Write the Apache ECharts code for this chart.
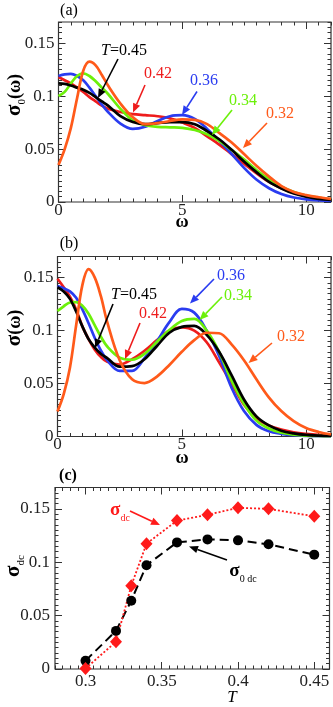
<!DOCTYPE html>
<html><head><meta charset="utf-8">
<script src="https://cdn.jsdelivr.net/npm/echarts@6/dist/echarts.min.js"></script>
<style>html,body{margin:0;padding:0;background:#fff}#c{width:333px;height:707px}</style>
</head><body><div id="c"></div>
<script>
// ---- data ----
const omega = [0,0.25,0.5,0.75,1,1.25,1.5,1.75,2,2.5,3,3.5,4,4.5,5,5.5,6,6.5,7,7.5,8,8.5,9,9.5,10,10.5,11];
// panel (a): sigma_0(omega)
const a045 = [0.112,0.1115,0.110,0.108,0.106,0.103,0.099,0.095,0.091,0.081,0.0755,0.0735,0.0745,0.0755,0.0755,0.0735,0.067,0.059,0.049,0.038,0.028,0.019,0.0128,0.008,0.005,0.003,0.002];
const a042 = [0.118,0.115,0.112,0.108,0.104,0.099,0.095,0.091,0.088,0.085,0.083,0.082,0.081,0.079,0.075,0.070,0.062,0.054,0.045,0.036,0.027,0.019,0.013,0.0085,0.0055,0.0035,0.0025];
const a036 = [0.119,0.1205,0.121,0.119,0.115,0.108,0.100,0.092,0.085,0.074,0.069,0.071,0.0765,0.081,0.082,0.0785,0.069,0.0575,0.045,0.032,0.021,0.013,0.0075,0.0042,0.0025,0.0015,0.001];
const a034 = [0.100,0.104,0.112,0.119,0.1215,0.119,0.114,0.108,0.102,0.088,0.077,0.0725,0.071,0.0705,0.070,0.068,0.064,0.0575,0.049,0.040,0.030,0.0215,0.0145,0.0095,0.006,0.004,0.0025];
const a032 = [0.035,0.05,0.07,0.098,0.124,0.1325,0.129,0.12,0.11,0.093,0.08,0.0735,0.0745,0.0765,0.078,0.0775,0.0735,0.065,0.056,0.045,0.034,0.024,0.015,0.0095,0.0065,0.0045,0.003];
// panel (b): sigma(omega)
const b045 = [0.141,0.137,0.13,0.118,0.104,0.092,0.084,0.078,0.074,0.066,0.0665,0.073,0.0855,0.098,0.1035,0.1045,0.096,0.080,0.058,0.035,0.019,0.0105,0.0055,0.003,0.0015,0.0008,0.0005];
const b042 = [0.149,0.141,0.132,0.12,0.104,0.092,0.082,0.075,0.0705,0.068,0.073,0.081,0.091,0.100,0.103,0.100,0.089,0.070,0.050,0.030,0.017,0.0105,0.0065,0.004,0.0025,0.0015,0.001];
const b036 = [0.142,0.140,0.137,0.131,0.12,0.107,0.093,0.081,0.072,0.062,0.062,0.074,0.09,0.108,0.1205,0.117,0.100,0.076,0.046,0.024,0.011,0.005,0.0025,0.0012,0.0006,0.0003,0.0002];
const b034 = [0.1185,0.123,0.1265,0.127,0.1235,0.116,0.105,0.094,0.085,0.0745,0.0725,0.078,0.0895,0.1005,0.109,0.111,0.100,0.080,0.053,0.031,0.015,0.0075,0.0035,0.0018,0.0009,0.0005,0.0003];
const b032 = [0.0236,0.04,0.065,0.105,0.143,0.158,0.150,0.132,0.108,0.072,0.054,0.0505,0.0566,0.0676,0.080,0.091,0.098,0.0975,0.087,0.072,0.054,0.037,0.024,0.0145,0.008,0.0043,0.002];
// panel (c)
const tempsC = [0.30,0.32,0.33,0.34,0.36,0.38,0.40,0.42,0.45];
const sigma0dc = [0.0078,0.0357,0.064,0.0972,0.1186,0.1214,0.1205,0.1168,0.1071];
const sigmadc = [0.0005,0.0255,0.078,0.1174,0.139,0.1444,0.151,0.150,0.143];
// ticks
const xTicksAB = [0,5,10];
const xTickLabelsAB = ['0','5','10'];
const yTicks = [0,0.05,0.1,0.15];
const yTickLabels = ['0','0.05','0.1','0.15'];
const xTicksC = [0.3,0.35,0.4,0.45];
const xTickLabelsC = ['0.3','0.35','0.4','0.45'];

// ---- style ----
const SERIF = '"Liberation Serif","DejaVu Serif",serif';
const COL = {k:'#000000', r:'#ee1c1c', b:'#2a3cf0', g:'#6cf00a', o:'#ff5a1a'};
const AX = '#333';
const grids = [
  {left:58.5, top:22, width:272.5, height:180},
  {left:57.5, top:256.5, width:273.5, height:180},
  {left:55, top:487.5, width:274.5, height:181.5}
];
const cfg = [
  {x:[0,11], xMinor:0.5, y:[0,0.17], yMinor:0.005, xt:xTicksAB, xl:xTickLabelsAB, xm:0, ym:4},
  {x:[0,11], xMinor:0.5, y:[0,0.17], yMinor:0.005, xt:xTicksAB, xl:xTickLabelsAB, xm:0, ym:4},
  {x:[0.28,0.46], xMinor:0.005, y:[0,0.17], yMinor:0.005, xt:xTicksC, xl:xTickLabelsC, xm:4, ym:5}
];
function lbl(v, ticks, labels){
  for (let i=0;i<ticks.length;i++) if (Math.abs(v-ticks[i])<1e-9) return labels[i];
  return '';
}
const xAxes=[], yAxes=[];
cfg.forEach((c,gi)=>{
  ['bottom','top'].forEach(pos=>{
    xAxes.push({gridIndex:gi,type:'value',min:c.x[0],max:c.x[1],position:pos,
      axisLine:{show:false,onZero:false},splitLine:{show:false},
      axisTick:{inside:true,length:7,customValues:c.xt,lineStyle:{color:AX,width:1}},
      axisLabel:{show:pos==='bottom',customValues:c.xt,formatter:v=>lbl(v,c.xt,c.xl),
        fontFamily:SERIF,fontSize:17,color:'#222',margin:c.xm}});
    xAxes.push({gridIndex:gi,type:'value',min:c.x[0],max:c.x[1],interval:c.xMinor,position:pos,
      axisLine:{show:false,onZero:false},splitLine:{show:false},
      axisTick:{inside:true,length:3.5,lineStyle:{color:AX,width:1}},axisLabel:{show:false}});
  });
  ['left','right'].forEach(pos=>{
    yAxes.push({gridIndex:gi,type:'value',min:c.y[0],max:c.y[1],position:pos,
      axisLine:{show:false,onZero:false},splitLine:{show:false},
      axisTick:{inside:true,length:7,customValues:yTicks,lineStyle:{color:AX,width:1}},
      axisLabel:{show:pos==='left',customValues:yTicks,formatter:v=>lbl(v,yTicks,yTickLabels),
        fontFamily:SERIF,fontSize:17,color:'#222',margin:c.ym}});
    yAxes.push({gridIndex:gi,type:'value',min:c.y[0],max:c.y[1],interval:c.yMinor,position:pos,
      axisLine:{show:false,onZero:false},splitLine:{show:false},
      axisTick:{inside:true,length:3.5,lineStyle:{color:AX,width:1}},axisLabel:{show:false}});
  });
});
function curve(gi, arr, color){
  return {type:'line',xAxisIndex:4*gi,yAxisIndex:4*gi,data:omega.map((w,i)=>[w,arr[i]]),
    showSymbol:false,smooth:0.35,lineStyle:{color:color,width:2.7},itemStyle:{color:color},silent:true};
}
const series = [
  curve(0,a042,COL.r),curve(0,a036,COL.b),curve(0,a034,COL.g),curve(0,a045,COL.k),curve(0,a032,COL.o),
  curve(1,b042,COL.r),curve(1,b036,COL.b),curve(1,b034,COL.g),curve(1,b045,COL.k),curve(1,b032,COL.o),
  {type:'line',xAxisIndex:8,yAxisIndex:8,data:tempsC.map((t,i)=>[t,sigma0dc[i]]),symbol:'circle',symbolSize:10,
    itemStyle:{color:'#000'},lineStyle:{color:'#000',width:2,type:[9,5]}},
  {type:'line',xAxisIndex:8,yAxisIndex:8,data:tempsC.map((t,i)=>[t,sigmadc[i]]),symbol:'diamond',symbolSize:[12,13],
    itemStyle:{color:'#ff1a1a'},lineStyle:{color:'#ff1a1a',width:1.8,type:[2,2]}}
];

// ---- annotations ----
function arrow(x1,y1,x2,y2,color){
  const dx=x2-x1, dy=y2-y1, L=Math.sqrt(dx*dx+dy*dy), ux=dx/L, uy=dy/L;
  const hl=9, hw=3.8;
  const bx=x2-ux*hl, by=y2-uy*hl;
  return [
    {type:'line',shape:{x1:x1,y1:y1,x2:bx,y2:by},style:{stroke:color,lineWidth:1.6},z:100},
    {type:'polygon',shape:{points:[[x2,y2],[bx-uy*hw,by+ux*hw],[bx+uy*hw,by-ux*hw]]},style:{fill:color},z:100}
  ];
}
function txt(x,y,text,color,size,extra){
  return Object.assign({type:'text',x:x,y:y,z:100,style:Object.assign({text:text,fill:color,
    font:(size||16)+'px '+SERIF,align:'center',verticalAlign:'middle',textAlign:'center',textVerticalAlign:'middle'},extra||{})});
}
const richT = {i:{fontStyle:'italic',fontFamily:SERIF,fontSize:16,fill:'#000'},n:{fontFamily:SERIF,fontSize:16,fill:'#000'}};
function ylab(x,y,text,rich,rot){
  return {type:'text',x:x,y:y,rotation:rot===undefined?Math.PI/2:rot,z:100,style:{text:text,rich:rich,align:'center',verticalAlign:'middle',textAlign:'center',textVerticalAlign:'middle'}};
}
const bigS = {fontFamily:SERIF,fontSize:21,fontWeight:'bold',lineHeight:26,fill:'#000'};
const subS = {fontFamily:SERIF,fontSize:11,lineHeight:11,verticalAlign:'bottom',fill:'#000'};
const parS = {fontFamily:SERIF,fontSize:18,fontWeight:'bold',lineHeight:26,fill:'#000'};
let gfx = [];
// panel (a)
gfx.push(txt(69,11,'(a)','#000',16));
gfx.push(ylab(15,95,'{b|σ}{s|0}{p|(ω)}',{b:bigS,s:subS,p:parS}));
gfx.push(txt(182,222,'ω','#000',18,{font:'bold 18px '+SERIF}));
gfx.push({type:'text',x:124,y:51,z:100,style:{text:'{i|T}{n|=0.45}',rich:richT,align:'center',verticalAlign:'middle'}});
gfx = gfx.concat(arrow(118,59,98,98,'#000'));
gfx.push(txt(158,73.5,'0.42',COL.r,16));
gfx = gfx.concat(arrow(145,85,133,112.5,COL.r));
gfx.push(txt(204,81,'0.36',COL.b,16));
gfx = gfx.concat(arrow(197,91.5,182,115,COL.b));
gfx.push(txt(243,101,'0.34',COL.g,16));
gfx = gfx.concat(arrow(232,110,212,135,COL.g));
gfx.push(txt(280,114,'0.32',COL.o,16));
gfx = gfx.concat(arrow(267,123,243,148,COL.o));
// panel (b)
gfx.push(txt(69,244,'(b)','#000',16));
gfx.push(ylab(15,328,'{b|σ}{p|(ω)}',{b:bigS,p:parS}));
gfx.push(txt(182,458,'ω','#000',18,{font:'bold 18px '+SERIF}));
gfx.push({type:'text',x:134,y:295,z:100,style:{text:'{i|T}{n|=0.45}',rich:richT,align:'center',verticalAlign:'middle'}});
gfx = gfx.concat(arrow(113,304,95,348,'#000'));
gfx.push(txt(153,313.5,'0.42',COL.r,16));
gfx = gfx.concat(arrow(140,323,125,359,COL.r));
gfx.push(txt(231,276,'0.36',COL.b,16));
gfx = gfx.concat(arrow(214,279,190,303.5,COL.b));
gfx.push(txt(238,296,'0.34',COL.g,16));
gfx = gfx.concat(arrow(222,297,199.5,320,COL.g));
gfx.push(txt(291,336.5,'0.32',COL.o,16));
gfx = gfx.concat(arrow(272,343,248.5,363,COL.o));
// panel (c)
gfx.push(txt(68,476,'(c)','#000',16,{font:'bold 16px '+SERIF}));
gfx.push(ylab(14,566,'{b|σ}{s|dc}',{b:bigS,s:subS}));
gfx.push(txt(232,698,'T','#000',17,{font:'italic 17px '+SERIF}));
gfx.push({type:'text',x:120,y:510,z:100,style:{text:'{b|σ}{s|dc}',rich:{b:Object.assign({},bigS,{fill:'#ff1a1a',fontSize:19}),s:Object.assign({},subS,{fill:'#ff1a1a',fontSize:10})},align:'center',verticalAlign:'middle'}});
gfx = gfx.concat(arrow(130,511,160,525,'#ff1a1a'));
gfx.push({type:'text',x:243,y:571,z:100,style:{text:'{b|σ}{s|0 dc}',rich:{b:Object.assign({},bigS,{fontSize:19}),s:Object.assign({},subS,{fontSize:10})},align:'center',verticalAlign:'middle'}});
gfx = gfx.concat(arrow(227,560,189,546.5,'#000'));

const chart = echarts.init(document.getElementById('c'), null, {renderer:'canvas'});
chart.setOption({
  animation:false,
  backgroundColor:'#fff',
  grid: grids.map(g=>Object.assign({show:true,borderColor:AX,borderWidth:1.2,containLabel:false},g)),
  xAxis:xAxes, yAxis:yAxes, series:series, graphic:gfx
});
</script></body></html>
